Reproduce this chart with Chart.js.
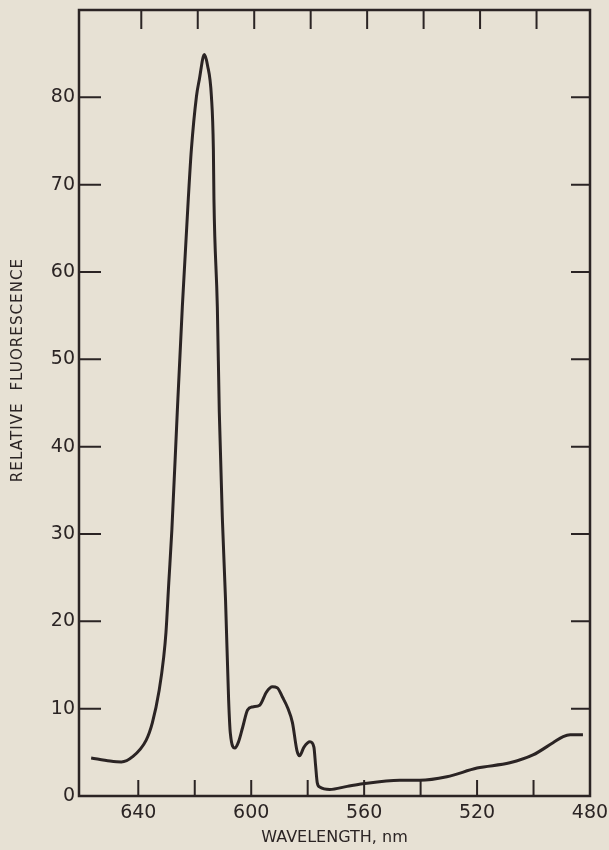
<!DOCTYPE html>
<html>
<head>
<meta charset="utf-8">
<script src="https://cdn.jsdelivr.net/npm/chart.js@4.4.1/dist/chart.umd.min.js"></script>
<style>
  html, body { margin: 0; padding: 0; background: #e7e1d4; }
  #wrap { width: 609px; height: 850px; }
</style>
</head>
<body>
<div id="wrap"><canvas id="myChart" width="609" height="850"></canvas></div>
<script>
// emission spectrum, wavelength in nm (long -> short)
const wavelength = [
  656.7, 650, 646, 642, 637.2, 635, 632.6, 631, 630.2, 629.2, 628.1,
  626.2, 624.4, 622.3, 621.2, 619.4, 618.4, 616.6, 615.5, 614.1, 613.4, 613.2,
  612, 611.3, 610.2, 609.1, 608, 607.4, 605.8, 604.5, 603, 601.3, 599.5, 597,
  594.6, 592.5, 590.8, 588.9, 587.1, 585.4, 583.8, 582.9, 581.3, 579.2, 577.8,
  577.2, 576.6, 575.6, 572.2, 566, 560.5, 547.4, 540.3, 530.7, 520, 508.4,
  500.2, 493.1, 489.5, 487, 482.5
];
const fluorescence = [
  4.35, 4.0, 3.9, 4.5, 6.4, 8.4, 12.1, 15.9, 18.7, 24.4, 30.5,
  43.9, 56.0, 68.3, 74.0, 80.1, 82.0, 84.9, 83.7, 80.1, 74.0, 68.3,
  56.0, 43.9, 31.6, 22.5, 11.0, 7.2, 5.5, 6.2, 7.9, 9.85, 10.2, 10.4,
  11.9, 12.5, 12.4, 11.3, 10.1, 8.4, 5.2, 4.6, 5.6, 6.2, 5.6,
  3.5, 1.5, 1.0, 0.75, 1.1, 1.4, 1.8, 1.8, 2.2, 3.2, 3.8,
  4.7, 6.1, 6.8, 7.0, 7.0
];

const xTickLabels = [640, 600, 560, 520, 480];
const xTickMarks = [640, 620, 600, 580, 560, 540, 520, 500];
const yTickLabels = [0, 10, 20, 30, 40, 50, 60, 70, 80];
const yTickMarks = [10, 20, 30, 40, 50, 60, 70, 80];

const ink = '#2b2424';
const fontFamily = '"DejaVu Sans", sans-serif';

// box frame, inward ticks on all four sides, rotated y title
const framePlugin = {
  id: 'frame',
  beforeDraw(chart) {
    const c = chart.ctx;
    c.save();
    c.fillStyle = '#e7e1d4';
    c.fillRect(0, 0, chart.width, chart.height);
    c.restore();
  },
  afterDraw(chart) {
    const { ctx, chartArea: a, scales } = chart;
    ctx.save();
    ctx.strokeStyle = ink;
    ctx.lineWidth = 2.5;
    ctx.strokeRect(a.left, a.top, a.right - a.left, a.bottom - a.top);

    ctx.lineWidth = 2;
    ctx.beginPath();
    xTickMarks.forEach(v => {
      const px = scales.x.getPixelForValue(v);
      ctx.moveTo(px, a.bottom);
      ctx.lineTo(px, a.bottom - 16);
      ctx.moveTo(px + 3, a.top);
      ctx.lineTo(px + 3, a.top + 19);
    });
    yTickMarks.forEach(v => {
      const py = scales.y.getPixelForValue(v);
      ctx.moveTo(a.left, py);
      ctx.lineTo(a.left + 22, py);
      ctx.moveTo(a.right, py);
      ctx.lineTo(a.right - 19, py);
    });
    ctx.stroke();

    ctx.fillStyle = ink;
    ctx.font = '15px ' + fontFamily;
    ctx.letterSpacing = '1.1px';
    ctx.textAlign = 'center';
    ctx.textBaseline = 'middle';
    ctx.translate(18, 370);
    ctx.rotate(-Math.PI / 2);
    ctx.fillText('RELATIVE  FLUORESCENCE', 0, 0);
    ctx.restore();
  }
};

(function() {
  var ctx = document.querySelector('#myChart');
  new Chart(ctx, {
    type: 'line',
    data: {
      datasets: [{
        data: wavelength.map((w, i) => ({ x: w, y: fluorescence[i] })),
        borderColor: ink,
        borderWidth: 3,
        pointRadius: 0,
        fill: false,
        cubicInterpolationMode: 'monotone'
      }]
    },
    options: {
      responsive: false,
      animation: false,
      layout: { padding: { top: 10, right: 19, left: 0, bottom: 0 } },
      plugins: {
        legend: { display: false },
        tooltip: { enabled: false }
      },
      scales: {
        x: {
          type: 'linear',
          reverse: true,
          min: 480,
          max: 661,
          grid: { display: false, drawTicks: false },
          border: { display: false },
          afterBuildTicks(scale) {
            scale.ticks = xTickLabels.map(v => ({ value: v }));
          },
          afterFit(scale) {
            scale.height = 54;
            scale.paddingLeft = 0;
            scale.paddingRight = 0;
          },
          ticks: {
            padding: 6,
            color: ink,
            maxRotation: 0,
            font: { family: fontFamily, size: 19 }
          },
          title: {
            display: true,
            text: 'WAVELENGTH, nm',
            color: ink,
            padding: { top: 0, bottom: 3 },
            font: { family: fontFamily, size: 16 }
          }
        },
        y: {
          min: 0,
          max: 90,
          grid: { display: false, drawTicks: false },
          border: { display: false },
          afterBuildTicks(scale) {
            scale.ticks = yTickLabels.map(v => ({ value: v }));
          },
          afterFit(scale) {
            scale.width = 79;
            scale.paddingTop = 0;
            scale.paddingBottom = 0;
          },
          ticks: {
            padding: 4,
            color: ink,
            font: { family: fontFamily, size: 19 }
          }
        }
      }
    },
    plugins: [framePlugin]
  });
})();
</script>
</body>
</html>
